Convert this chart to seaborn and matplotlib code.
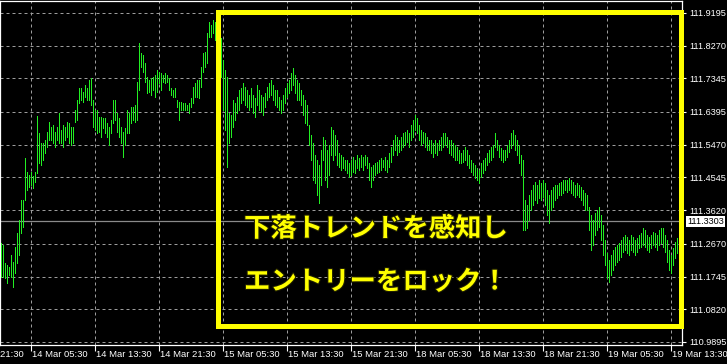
import numpy as np
import pandas as pd
import matplotlib
matplotlib.use("Agg")
import matplotlib.pyplot as plt
import matplotlib.patheffects as pe
from matplotlib.patches import Rectangle
from matplotlib.transforms import blended_transform_factory
import seaborn as sns

# ---------------- data (USDJPY M15 bars) ----------------
highs = [
    111.269, 111.263, 111.213, 111.207, 111.201, 111.235, 111.215, 111.258, 111.297, 111.334,
    111.391, 111.391, 111.509, 111.470, 111.461, 111.470, 111.458, 111.470, 111.628, 111.580,
    111.552, 111.552, 111.560, 111.583, 111.611, 111.597, 111.603, 111.583, 111.597, 111.637,
    111.588, 111.603, 111.597, 111.611, 111.608, 111.597, 111.597, 111.645, 111.673, 111.707,
    111.707, 111.696, 111.716, 111.707, 111.730, 111.736, 111.673, 111.645, 111.645, 111.625,
    111.625, 111.622, 111.622, 111.608, 111.597, 111.617, 111.673, 111.673, 111.637, 111.622,
    111.597, 111.583, 111.594, 111.645, 111.637, 111.654, 111.654, 111.659, 111.724, 111.834,
    111.806, 111.801, 111.778, 111.738, 111.730, 111.736, 111.738, 111.744, 111.758, 111.752,
    111.750, 111.744, 111.750, 111.744, 111.736, 111.707, 111.702, 111.707, 111.673, 111.668,
    111.668, 111.665, 111.665, 111.659, 111.665, 111.679, 111.710, 111.721, 111.730, 111.730,
    111.767, 111.806, 111.809, 111.863, 111.894, 111.885, 111.899, 111.894, 111.899, 111.871,
    111.849, 111.786, 111.758, 111.738, 111.637, 111.631, 111.673, 111.665, 111.682, 111.702,
    111.707, 111.721, 111.710, 111.702, 111.687, 111.707, 111.687, 111.679, 111.716, 111.702,
    111.687, 111.682, 111.693, 111.710, 111.721, 111.730, 111.716, 111.702, 111.702, 111.682,
    111.673, 111.687, 111.707, 111.721, 111.730, 111.750, 111.764, 111.744, 111.730, 111.721,
    111.702, 111.687, 111.673, 111.659, 111.603, 111.574, 111.552, 111.518, 111.504, 111.490,
    111.532, 111.569, 111.560, 111.532, 111.546, 111.597, 111.588, 111.574, 111.560, 111.523,
    111.518, 111.512, 111.504, 111.504, 111.495, 111.504, 111.512, 111.504, 111.518, 111.509,
    111.518, 111.512, 111.518, 111.512, 111.495, 111.484, 111.490, 111.495, 111.498, 111.504,
    111.509, 111.504, 111.512, 111.504, 111.523, 111.540, 111.560, 111.574, 111.569, 111.560,
    111.569, 111.580, 111.583, 111.588, 111.580, 111.603, 111.617, 111.631, 111.622, 111.603,
    111.588, 111.583, 111.580, 111.569, 111.560, 111.560, 111.552, 111.560, 111.552, 111.560,
    111.569, 111.580, 111.580, 111.569, 111.560, 111.560, 111.552, 111.546, 111.540, 111.532,
    111.523, 111.532, 111.540, 111.532, 111.518, 111.504, 111.495, 111.490, 111.481, 111.475,
    111.495, 111.504, 111.509, 111.523, 111.532, 111.540, 111.546, 111.580, 111.560, 111.546,
    111.538, 111.532, 111.532, 111.546, 111.560, 111.580, 111.588, 111.574, 111.560, 111.546,
    111.518, 111.504, 111.391, 111.376, 111.405, 111.419, 111.433, 111.441, 111.433, 111.447,
    111.439, 111.447, 111.439, 111.419, 111.405, 111.419, 111.427, 111.433, 111.433, 111.439,
    111.441, 111.447, 111.447, 111.447, 111.453, 111.447, 111.441, 111.433, 111.439, 111.433,
    111.427, 111.419, 111.410, 111.405, 111.371, 111.348, 111.334, 111.354, 111.362, 111.371,
    111.348, 111.320, 111.278, 111.241, 111.221, 111.235, 111.249, 111.258, 111.263, 111.269,
    111.278, 111.286, 111.292, 111.286, 111.278, 111.292, 111.286, 111.278, 111.283, 111.292,
    111.297, 111.311, 111.306, 111.292, 111.286, 111.292, 111.300, 111.297, 111.292, 111.306,
    111.311, 111.311, 111.292, 111.278, 111.249, 111.235, 111.255, 111.272, 111.283, 111.292,
    111.286,
]
lows = [
    111.173, 111.173, 111.170, 111.156, 111.179, 111.173, 111.145, 111.184, 111.213, 111.235,
    111.297, 111.314, 111.391, 111.419, 111.427, 111.433, 111.424, 111.441, 111.467, 111.495,
    111.490, 111.504, 111.523, 111.540, 111.560, 111.560, 111.552, 111.540, 111.560, 111.552,
    111.552, 111.540, 111.560, 111.569, 111.552, 111.546, 111.552, 111.611, 111.617, 111.665,
    111.673, 111.668, 111.682, 111.673, 111.673, 111.659, 111.597, 111.588, 111.580, 111.583,
    111.569, 111.594, 111.580, 111.569, 111.546, 111.580, 111.608, 111.617, 111.583, 111.569,
    111.552, 111.512, 111.546, 111.580, 111.580, 111.608, 111.617, 111.611, 111.617, 111.702,
    111.767, 111.752, 111.724, 111.693, 111.696, 111.687, 111.702, 111.682, 111.696, 111.721,
    111.702, 111.724, 111.721, 111.724, 111.702, 111.687, 111.682, 111.682, 111.654, 111.617,
    111.645, 111.645, 111.645, 111.645, 111.637, 111.654, 111.665, 111.682, 111.682, 111.679,
    111.710, 111.752, 111.767, 111.778, 111.851, 111.851, 111.863, 111.843, 111.829, 111.786,
    111.738, 111.645, 111.588, 111.484, 111.552, 111.569, 111.597, 111.617, 111.637, 111.645,
    111.665, 111.673, 111.659, 111.654, 111.645, 111.654, 111.637, 111.625, 111.659, 111.645,
    111.639, 111.631, 111.654, 111.673, 111.682, 111.687, 111.673, 111.659, 111.654, 111.645,
    111.637, 111.645, 111.665, 111.682, 111.693, 111.702, 111.716, 111.693, 111.673, 111.673,
    111.659, 111.631, 111.608, 111.603, 111.546, 111.504, 111.447, 111.439, 111.405, 111.382,
    111.433, 111.504, 111.447, 111.427, 111.461, 111.518, 111.504, 111.518, 111.490, 111.484,
    111.475, 111.481, 111.475, 111.467, 111.456, 111.461, 111.470, 111.467, 111.481, 111.475,
    111.484, 111.475, 111.490, 111.481, 111.447, 111.427, 111.447, 111.461, 111.467, 111.470,
    111.475, 111.484, 111.475, 111.470, 111.484, 111.498, 111.518, 111.532, 111.518, 111.526,
    111.532, 111.540, 111.546, 111.555, 111.540, 111.560, 111.569, 111.588, 111.580, 111.560,
    111.546, 111.552, 111.540, 111.532, 111.532, 111.523, 111.512, 111.523, 111.518, 111.532,
    111.532, 111.540, 111.546, 111.540, 111.523, 111.518, 111.512, 111.504, 111.504, 111.495,
    111.495, 111.498, 111.504, 111.490, 111.481, 111.470, 111.461, 111.453, 111.447, 111.439,
    111.456, 111.467, 111.475, 111.490, 111.498, 111.504, 111.512, 111.540, 111.532, 111.512,
    111.504, 111.498, 111.504, 111.512, 111.526, 111.538, 111.546, 111.532, 111.518, 111.495,
    111.461, 111.306, 111.306, 111.311, 111.334, 111.362, 111.376, 111.391, 111.382, 111.396,
    111.391, 111.399, 111.376, 111.348, 111.326, 111.362, 111.371, 111.391, 111.396, 111.405,
    111.405, 111.410, 111.419, 111.413, 111.419, 111.410, 111.405, 111.399, 111.405, 111.399,
    111.391, 111.376, 111.362, 111.362, 111.306, 111.249, 111.263, 111.292, 111.306, 111.314,
    111.278, 111.235, 111.207, 111.170, 111.159, 111.179, 111.193, 111.207, 111.215, 111.221,
    111.230, 111.244, 111.249, 111.241, 111.235, 111.249, 111.244, 111.235, 111.244, 111.255,
    111.258, 111.263, 111.258, 111.249, 111.244, 111.255, 111.263, 111.258, 111.249, 111.263,
    111.269, 111.258, 111.244, 111.215, 111.193, 111.184, 111.207, 111.227, 111.241, 111.249,
    111.249,
]
time_labels = ["13 Mar 21:30", "14 Mar 05:30", "14 Mar 13:30", "14 Mar 21:30",
               "15 Mar 05:30", "15 Mar 13:30", "15 Mar 21:30", "18 Mar 05:30",
               "18 Mar 13:30", "18 Mar 21:30", "19 Mar 05:30", "19 Mar 13:30"]
price_ticks = [111.9195, 111.8270, 111.7345, 111.6395, 111.5470, 111.4545,
               111.3620, 111.2670, 111.1745, 111.0820, 110.9895]
bid_price = 111.3303
caption = ["下落トレンドを感知し", "エントリーをロック！"]

# ---------------- style ----------------
sns.set_theme(style="dark", rc={"axes.facecolor": "black", "figure.facecolor": "black"})
plt.rcParams["font.family"] = ["Liberation Sans", "DejaVu Sans"]

W, H = 727, 364
fig = plt.figure(figsize=(W / 100, H / 100), dpi=100, facecolor="black")
ax = fig.add_axes([0, 19 / H, 682 / W, 344 / H])
ax.set_facecolor("black")

n = len(highs)
bars = np.arange(n)
df = pd.DataFrame({
    "bar": np.concatenate([bars, bars]),
    "price": np.concatenate([np.array(lows), np.array(highs)]),
})
sns.lineplot(data=df, x="bar", y="price", units="bar", estimator=None, sort=False,
             color="#22ee22", linewidth=0.5, antialiased=False, ax=ax,
             legend=False, zorder=3)

ax.set_xlim(-0.25, n - 0.25)
ax.set_ylim(110.981, 111.953)
ax.set_xlabel("")
ax.set_ylabel("")

# x ticks every 32 bars (8 hours of M15 bars), first label lies off the left edge
first_bar = 15 - 32
label_bars = [first_bar + 32 * k for k in range(len(time_labels))]
in_range = [b for b in label_bars if 0 <= b < n]
ax.set_xticks(in_range)
ax.set_xticklabels([])
ax.set_yticks(price_ticks)
ax.set_yticklabels([f"{v:.4f}" for v in price_ticks])

ax.yaxis.tick_right()
ax.tick_params(axis="y", which="both", right=True, left=False, labelright=True,
               labelleft=False, colors="white", length=3, width=0.8, pad=2.0,
               labelsize=6.6, direction="out")
ax.tick_params(axis="x", which="both", bottom=True, colors="white", length=4,
               width=0.8, direction="out")
for lab in ax.get_yticklabels():
    lab.set_color("white")

ax.grid(True, color="#9c9c9c", linestyle=(0, (3, 3)), linewidth=0.72)
ax.set_axisbelow(True)
for s in ax.spines.values():
    s.set_visible(True)
    s.set_color("white")
    s.set_linewidth(0.9)

# x labels drawn manually (left aligned at the tick, like MT4)
trans = blended_transform_factory(ax.transData, ax.transAxes)
for b, lab in zip(label_bars, time_labels):
    ax.text(b + 0.5, -0.028, lab, transform=trans, ha="left", va="center",
            color="white", fontsize=6.8, clip_on=False)

# bid line and its label
ax.axhline(bid_price, color="#8a8a8a", linewidth=0.9, zorder=2)
tb = blended_transform_factory(ax.transAxes, ax.transData)
ax.text(1.0 + 5 / 682, bid_price, f"{bid_price:.4f}", transform=tb, ha="left",
        va="center", color="black", fontsize=6.6, clip_on=False,
        bbox=dict(boxstyle="square,pad=0.15", fc="white", ec="none"))

# yellow highlight frame
ax.add_patch(Rectangle((218 / 682, (345 - 325.5) / 344), (681 - 218) / 682,
                       (325.5 - 11.5) / 344, transform=ax.transAxes, fill=False,
                       edgecolor="#ffff00", linewidth=3.6, joinstyle="miter",
                       clip_on=False, zorder=6))

# caption
for k, line in enumerate(caption):
    ax.text(244 / 682, (345 - (229 + 53 * k)) / 344, line, transform=ax.transAxes,
            ha="left", va="center", color="#ffff00", fontsize=19, fontweight="bold",
            family=["Noto Sans CJK JP", "DejaVu Sans"], zorder=7,
            path_effects=[pe.withStroke(linewidth=1.5, foreground="#202000")])

fig.savefig("out.png", dpi=100, facecolor="black")
